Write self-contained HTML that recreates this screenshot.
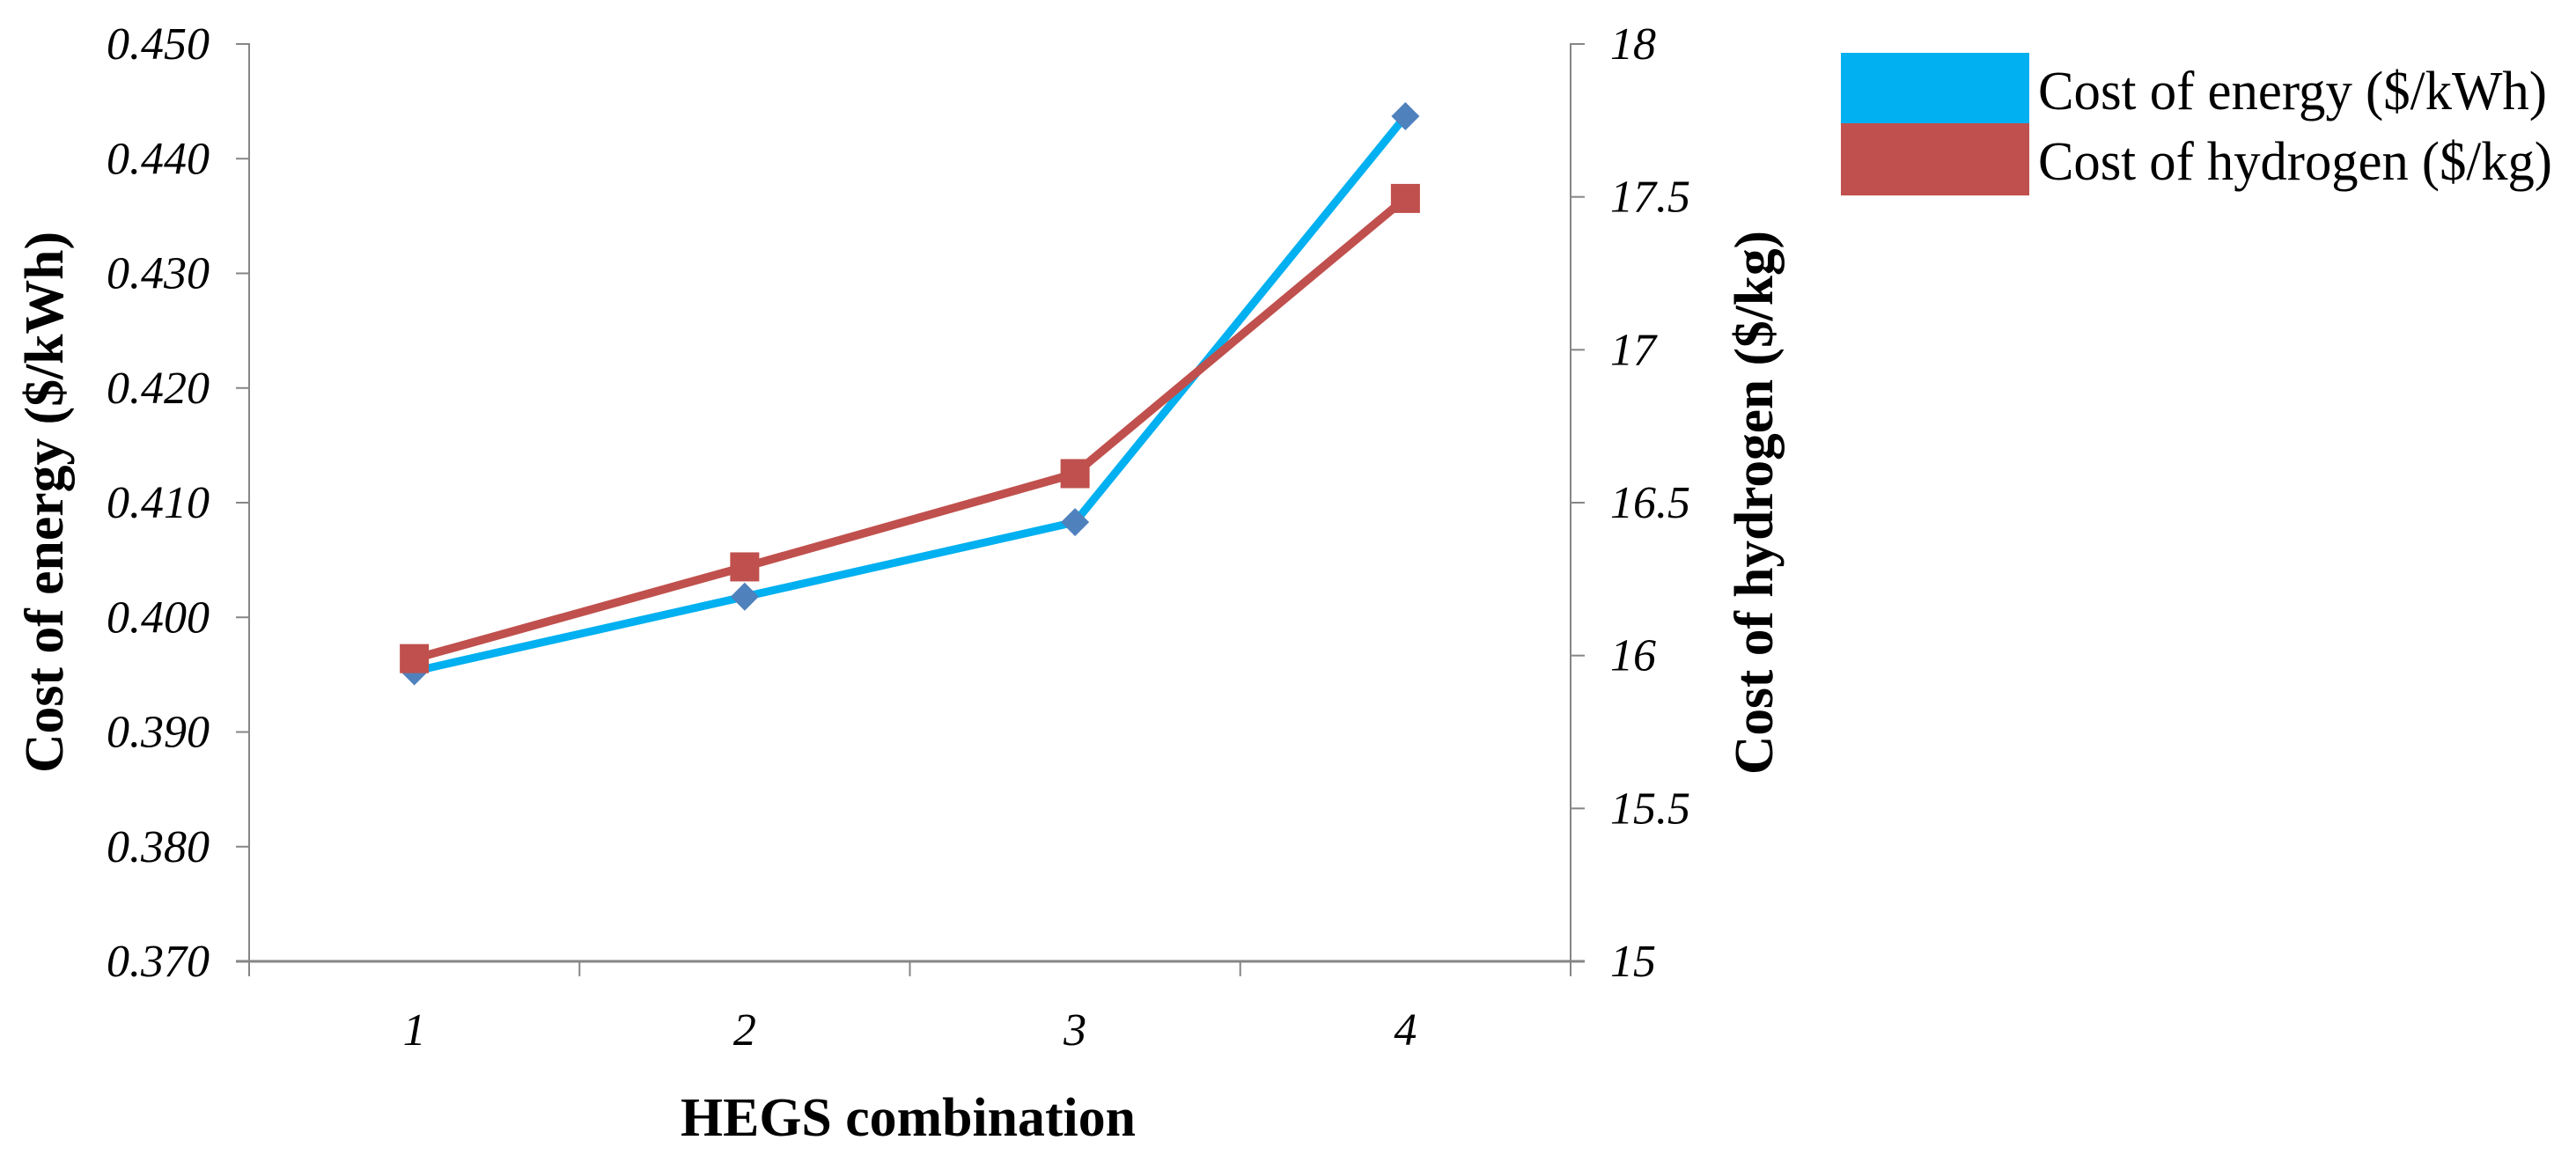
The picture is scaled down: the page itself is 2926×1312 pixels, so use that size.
<!DOCTYPE html>
<html lang="en">
<head>
<meta charset="utf-8">
<title>Cost of energy and hydrogen by HEGS combination</title>
<style>
html,body{margin:0;padding:0;background:#fff;width:2926px;height:1312px;overflow:hidden}
svg{display:block}
text{font-family:"Liberation Serif",serif;fill:#000}
.tick{font-size:52px;font-style:italic}
.title{font-size:62px;font-weight:bold}
.legend{font-size:62px}
</style>
</head>
<body>
<svg id="chart" xmlns="http://www.w3.org/2000/svg" width="2926" height="1312" viewBox="0 0 2926 1312">
  <rect x="0" y="0" width="2926" height="1312" fill="#fff"/>
  <g id="axes"></g>
  <g id="marks"></g>
  <text class="title" x="773" y="1290" textLength="517" lengthAdjust="spacingAndGlyphs">HEGS combination</text>
  <text class="title" transform="translate(71 878) rotate(-90)" x="0" y="0" textLength="615" lengthAdjust="spacingAndGlyphs">Cost of energy ($/kWh)</text>
  <text class="title" transform="translate(2013 880) rotate(-90)" x="0" y="0" textLength="618" lengthAdjust="spacingAndGlyphs">Cost of hydrogen ($/kg)</text>
  <g>
    <rect x="2091" y="60" width="214" height="80" fill="#00B0F0"/>
    <text class="legend" x="2315" y="124" textLength="578" lengthAdjust="spacingAndGlyphs">Cost of energy ($/kWh)</text>
    <rect x="2091" y="140" width="214" height="82" fill="#C0504D"/>
    <text class="legend" x="2315" y="204" textLength="584" lengthAdjust="spacingAndGlyphs">Cost of hydrogen ($/kg)</text>
  </g>
</svg>
<script>
const categories = ["1", "2", "3", "4"];
const energyCost = [0.3953, 0.4018, 0.4083, 0.4437];
const hydrogenCost = [15.99, 16.29, 16.595, 17.495];
const leftTicks = ["0.370", "0.380", "0.390", "0.400", "0.410", "0.420", "0.430", "0.440", "0.450"];
const rightTicks = ["15", "15.5", "16", "16.5", "17", "17.5", "18"];

const NS = "http://www.w3.org/2000/svg";
const plotLeft = 283, plotRight = 1784, plotTop = 50, plotBottom = 1092;
const axisColor = "#868686";
const axesLayer = document.getElementById("axes");
const marksLayer = document.getElementById("marks");

function leftScale(v) {
  const lo = parseFloat(leftTicks[0]), hi = parseFloat(leftTicks[leftTicks.length - 1]);
  return plotBottom - (v - lo) / (hi - lo) * (plotBottom - plotTop);
}
function rightScale(v) {
  const lo = parseFloat(rightTicks[0]), hi = parseFloat(rightTicks[rightTicks.length - 1]);
  return plotBottom - (v - lo) / (hi - lo) * (plotBottom - plotTop);
}
function bandEdge(i) {
  return plotLeft + i * (plotRight - plotLeft) / categories.length;
}
function xScale(i) {
  return bandEdge(i + 0.5);
}
function make(tag, parent, props) {
  const el = document.createElementNS(NS, tag);
  for (const k in props) el.setAttribute(k, props[k]);
  parent.appendChild(el);
  return el;
}
function axisLine(x1, y1, x2, y2, w) {
  return make("line", axesLayer, { x1: x1, y1: y1, x2: x2, y2: y2, stroke: axisColor, "stroke-width": w });
}

let ln;
ln = axisLine(plotLeft, plotTop - 1, plotLeft, plotBottom + 17, 2);


ln = axisLine(plotRight, plotTop - 1, plotRight, plotBottom + 17, 2);


ln = axisLine(plotLeft - 15, plotBottom, plotRight + 16, plotBottom, 3);



leftTicks.forEach(function (t) {
  const y = leftScale(parseFloat(t));
  const tick = axisLine(plotLeft - 15, y, plotLeft, y, 2);
  
  
  const label = make("text", axesLayer, { class: "tick", x: 238, y: y + 17, "text-anchor": "end" });
  label.textContent = t;
  
  
});

rightTicks.forEach(function (t) {
  const y = rightScale(parseFloat(t));
  const tick = axisLine(plotRight, y, plotRight + 16, y, 2);
  
  
  const label = make("text", axesLayer, { class: "tick", x: 1829, y: y + 17 });
  label.textContent = t;
  
  
});

for (let i = 0; i <= categories.length; i++) {
  const x = bandEdge(i);
  const tick = axisLine(x, plotBottom, x, plotBottom + 17, 2);
  
  
}
categories.forEach(function (c, i) {
  const label = make("text", axesLayer, { class: "tick", x: xScale(i), y: 1187, "text-anchor": "middle" });
  label.textContent = c;
  
  
});

const energyLine = make("polyline", marksLayer, {
  points: energyCost.map(function (v, i) { return xScale(i) + "," + leftScale(v); }).join(" "),
  fill: "none", stroke: "#00B0F0", "stroke-width": 9, "stroke-linejoin": "round"
});



energyCost.forEach(function (v, i) {
  const cx = xScale(i), cy = leftScale(v);
  const d = make("polygon", marksLayer, {
    points: (cx - 16) + "," + cy + " " + cx + "," + (cy - 16) + " " + (cx + 16) + "," + cy + " " + cx + "," + (cy + 16),
    fill: "#4F81BD"
  });
  
  
});

const hydrogenLine = make("polyline", marksLayer, {
  points: hydrogenCost.map(function (v, i) { return xScale(i) + "," + rightScale(v); }).join(" "),
  fill: "none", stroke: "#C0504D", "stroke-width": 9.5, "stroke-linejoin": "round"
});



hydrogenCost.forEach(function (v, i) {
  const cx = xScale(i), cy = rightScale(v);
  const s = make("rect", marksLayer, { x: cx - 16.5, y: cy - 16.5, width: 33, height: 33, fill: "#C0504D" });
  
  
});
</script>
</body>
</html>
